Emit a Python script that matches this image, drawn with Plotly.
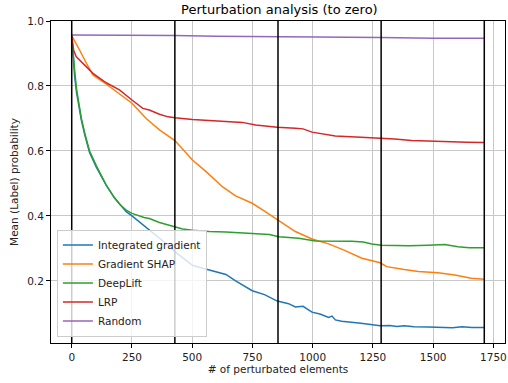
import plotly.graph_objects as go

# ---- data ----
ig_x = [0, 5, 12, 20, 33, 40, 54, 74, 102, 143, 178, 226, 250, 300, 322, 364, 400, 428, 460, 501, 540, 598, 640, 680, 749, 800, 853, 900, 928, 960, 997, 1030, 1066, 1080, 1094, 1120, 1149, 1200, 1240, 1280, 1320, 1350, 1380, 1420, 1479, 1530, 1580, 1620, 1660, 1712]
ig_y = [0.955, 0.90, 0.83, 0.78, 0.72, 0.695, 0.65, 0.595, 0.55, 0.495, 0.455, 0.413, 0.40, 0.37, 0.355, 0.33, 0.31, 0.29, 0.272, 0.248, 0.240, 0.228, 0.220, 0.200, 0.170, 0.158, 0.138, 0.130, 0.120, 0.122, 0.104, 0.098, 0.088, 0.092, 0.080, 0.076, 0.073, 0.070, 0.066, 0.062, 0.063, 0.060, 0.062, 0.059, 0.058, 0.057, 0.056, 0.059, 0.057, 0.057]

gs_x = [0, 12, 33, 61, 88, 130, 157, 200, 250, 309, 364, 428, 501, 560, 625, 680, 749, 800, 853, 928, 997, 1066, 1130, 1204, 1280, 1307, 1380, 1438, 1520, 1590, 1658, 1712]
gs_y = [0.955, 0.94, 0.91, 0.87, 0.834, 0.813, 0.798, 0.775, 0.747, 0.70, 0.665, 0.632, 0.572, 0.535, 0.49, 0.462, 0.439, 0.415, 0.39, 0.352, 0.329, 0.314, 0.295, 0.27, 0.256, 0.244, 0.235, 0.229, 0.225, 0.218, 0.208, 0.205]

dl_x = [0, 5, 12, 20, 33, 40, 54, 74, 102, 143, 178, 200, 226, 250, 300, 322, 364, 400, 428, 460, 501, 529, 570, 640, 680, 763, 820, 859, 942, 1011, 1066, 1162, 1210, 1245, 1286, 1400, 1479, 1548, 1603, 1650, 1712]
dl_y = [0.955, 0.92, 0.85, 0.79, 0.735, 0.70, 0.655, 0.60, 0.555, 0.495, 0.455, 0.435, 0.418, 0.408, 0.395, 0.392, 0.38, 0.372, 0.367, 0.36, 0.356, 0.354, 0.352, 0.351, 0.349, 0.345, 0.343, 0.336, 0.331, 0.323, 0.323, 0.322, 0.320, 0.314, 0.310, 0.308, 0.310, 0.312, 0.305, 0.302, 0.302]

lrp_x = [0, 8, 19, 40, 60, 88, 143, 198, 250, 295, 322, 364, 400, 428, 501, 598, 640, 708, 763, 818, 853, 928, 960, 997, 1066, 1094, 1200, 1286, 1340, 1410, 1480, 1562, 1640, 1712]
lrp_y = [0.955, 0.91, 0.89, 0.875, 0.86, 0.839, 0.81, 0.788, 0.757, 0.731, 0.726, 0.713, 0.705, 0.702, 0.697, 0.692, 0.691, 0.688, 0.68, 0.675, 0.673, 0.67, 0.668, 0.658, 0.649, 0.646, 0.642, 0.639, 0.637, 0.632, 0.630, 0.629, 0.627, 0.626]

rnd_x = [0, 200, 300, 428, 600, 853, 1000, 1282, 1500, 1712]
rnd_y = [0.957, 0.957, 0.955, 0.955, 0.953, 0.952, 0.951, 0.949, 0.947, 0.947]

split_points = [0, 428, 856, 1284, 1712]

series_names = ["Integrated gradient", "Gradient SHAP", "DeepLift", "LRP", "Random"]
series_colors = ["#1f77b4", "#ff7f0e", "#2ca02c", "#d62728", "#9467bd"]
series_data = [(ig_x, ig_y), (gs_x, gs_y), (dl_x, dl_y), (lrp_x, lrp_y), (rnd_x, rnd_y)]

x_ticks = [0, 250, 500, 750, 1000, 1250, 1500, 1750]
y_ticks = [0.2, 0.4, 0.6, 0.8, 1.0]

fig = go.Figure()
for name, color, (xs, ys) in zip(series_names, series_colors, series_data):
    fig.add_trace(go.Scatter(x=xs, y=ys, mode="lines", name=name,
                             line=dict(color=color, width=1.5)))

for sp in split_points:
    fig.add_shape(type="line", xref="x", yref="paper", x0=sp, x1=sp, y0=0, y1=1,
                  line=dict(color="black", width=1.5))

font_family = "DejaVu Sans"
fig.update_layout(
    width=508, height=383,
    margin=dict(l=51, r=1, t=21, b=40),
    paper_bgcolor="white", plot_bgcolor="white",
    font=dict(family=font_family, size=10.5, color="#222"),
    title=dict(text="Perturbation analysis (to zero)", x=0.55, xanchor="center",
               y=0.975, yanchor="middle", font=dict(size=13, color="black")),
    showlegend=True,
    legend=dict(x=0.013, y=0.02, xanchor="left", yanchor="bottom",
                bgcolor="rgba(255,255,255,0.8)", bordercolor="#cccccc", borderwidth=1,
                font=dict(size=10.5, color="#222"), tracegroupgap=0, itemwidth=30),
)
fig.update_xaxes(range=[-86, 1798], tickvals=x_ticks, ticktext=[str(v) for v in x_ticks],
                 showgrid=True, gridcolor="#c8c8c8", gridwidth=1, zeroline=False,
                 showline=True, linecolor="black", linewidth=1, mirror=True,
                 ticks="outside", ticklen=4, tickcolor="black", ticklabeloverflow="allow",
                 tickfont=dict(size=10.5),
                 title=dict(text="# of perturbated elements", font=dict(size=10.5), standoff=4))
fig.update_yaxes(range=[0.009, 1.0], tickvals=y_ticks, ticktext=["%.1f" % v for v in y_ticks],
                 showgrid=True, gridcolor="#c8c8c8", gridwidth=1, zeroline=False,
                 showline=True, linecolor="black", linewidth=1, mirror=True,
                 ticks="outside", ticklen=4, tickcolor="black",
                 tickfont=dict(size=10.5),
                 title=dict(text="Mean (Label) probability", font=dict(size=10.5), standoff=6))

fig.write_html("out.html")
